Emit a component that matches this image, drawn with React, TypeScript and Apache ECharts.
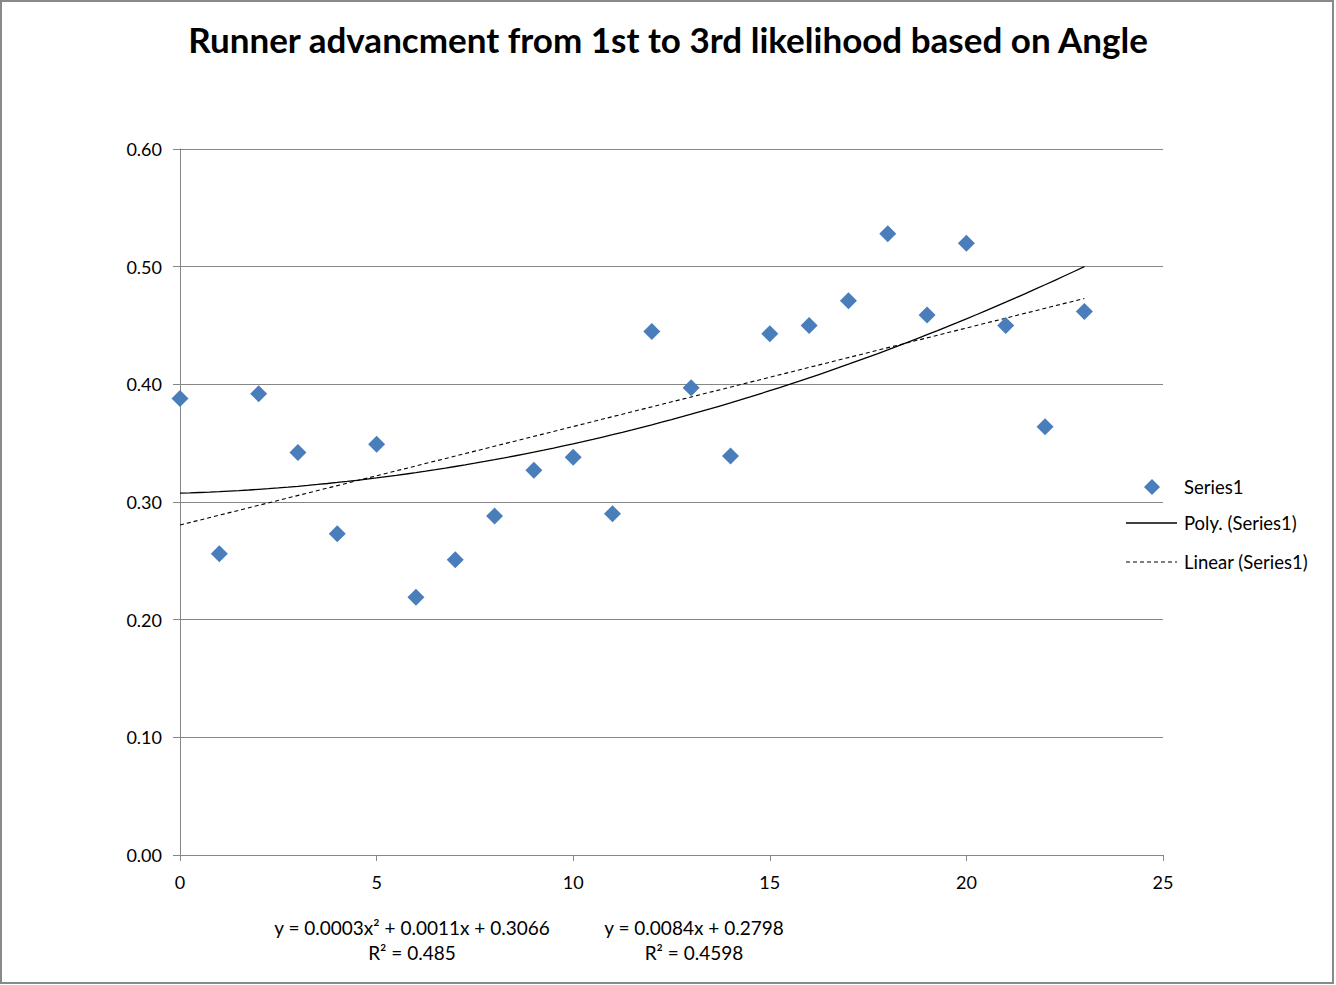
import React, { useEffect, useRef } from "react";
import * as echarts from "echarts";

const TITLE = "Runner advancment from 1st to 3rd likelihood based on Angle";
const angles = [0, 1, 2, 3, 4, 5, 6, 7, 8, 9, 10, 11, 12, 13, 14, 15, 16, 17, 18, 19, 20, 21, 22, 23];
const likelihood = [
  0.388, 0.256, 0.392, 0.342, 0.273, 0.349, 0.219, 0.251, 0.288, 0.327, 0.338, 0.290,
  0.445, 0.397, 0.339, 0.443, 0.450, 0.471, 0.528, 0.459, 0.520, 0.450, 0.364, 0.462,
];
const legendNames = ["Series1", "Poly. (Series1)", "Linear (Series1)"];
const polyEquation = ["y = 0.0003x² + 0.0011x + 0.3066", "R² = 0.485"];
const linearEquation = ["y = 0.0084x + 0.2798", "R² = 0.4598"];

const FONT = "Lato, 'Liberation Sans', sans-serif";
const BLUE = "#4A7EBB";
const GRAY = "#868686";

function solve3(A: number[][], b: number[]): number[] {
  const M = A.map((r, i) => [...r, b[i]]);
  for (let i = 0; i < 3; i++) {
    let p = i;
    for (let k = i + 1; k < 3; k++) if (Math.abs(M[k][i]) > Math.abs(M[p][i])) p = k;
    [M[i], M[p]] = [M[p], M[i]];
    for (let k = 0; k < 3; k++) {
      if (k === i) continue;
      const f = M[k][i] / M[i][i];
      for (let j = i; j < 4; j++) M[k][j] -= f * M[i][j];
    }
  }
  return [M[0][3] / M[0][0], M[1][3] / M[1][1], M[2][3] / M[2][2]];
}

function fits() {
  const n = angles.length;
  let sx = 0, sx2 = 0, sx3 = 0, sx4 = 0, sy = 0, sxy = 0, sx2y = 0;
  for (let i = 0; i < n; i++) {
    const x = angles[i], y = likelihood[i];
    sx += x; sx2 += x * x; sx3 += x * x * x; sx4 += x * x * x * x;
    sy += y; sxy += x * y; sx2y += x * x * y;
  }
  const slope = (n * sxy - sx * sy) / (n * sx2 - sx * sx);
  const intercept = (sy - slope * sx) / n;
  const [c, b, a] = solve3(
    [
      [n, sx, sx2],
      [sx, sx2, sx3],
      [sx2, sx3, sx4],
    ],
    [sy, sxy, sx2y]
  );
  return { slope, intercept, a, b, c };
}

export default function App() {
  const ref = useRef<HTMLDivElement>(null);
  useEffect(() => {
    document.body.style.margin = "0";
    if (!ref.current) return;
    const chart = echarts.init(ref.current, undefined, { renderer: "svg" });
    const f = fits();
    const xMin = angles[0];
    const xMax = angles[angles.length - 1];
    const polyData: number[][] = [];
    for (let x = xMin; x <= xMax + 1e-9; x += 0.25) {
      polyData.push([x, f.a * x * x + f.b * x + f.c]);
    }
    const linData = [
      [xMin, f.intercept + f.slope * xMin],
      [xMax, f.intercept + f.slope * xMax],
    ];
    const textStyle = { fontFamily: FONT, fontSize: 18.5, fill: "#000" };
    chart.setOption({
      animation: false,
      backgroundColor: "#fff",
      title: {
        text: TITLE,
        left: "center",
        top: 16,
        textStyle: { fontFamily: FONT, fontSize: 35, fontWeight: "bold", color: "#000" },
      },
      grid: { left: 180, right: 173, top: 149, bottom: 130 },
      xAxis: {
        type: "value",
        min: 0,
        max: 25,
        interval: 5,
        axisLine: { show: true, lineStyle: { color: GRAY, width: 1 } },
        axisTick: { show: true, length: 6, lineStyle: { color: GRAY } },
        axisLabel: { fontFamily: FONT, fontSize: 18, color: "#000", margin: 18 },
        splitLine: { show: false },
      },
      yAxis: {
        type: "value",
        min: 0,
        max: 0.6,
        interval: 0.1,
        axisLine: { show: true, lineStyle: { color: GRAY, width: 1 } },
        axisTick: { show: true, length: 7, lineStyle: { color: GRAY } },
        axisLabel: {
          fontFamily: FONT,
          fontSize: 18,
          color: "#000",
          margin: 18,
          formatter: (v: number) => v.toFixed(2),
        },
        splitLine: { show: true, lineStyle: { color: GRAY, width: 1 } },
      },
      series: [
        {
          name: legendNames[0],
          type: "scatter",
          symbol: "diamond",
          symbolSize: 17,
          itemStyle: { color: BLUE, opacity: 1 },
          data: angles.map((x, i) => [x, likelihood[i]]),
          z: 3,
        },
        {
          name: legendNames[1],
          type: "line",
          showSymbol: false,
          symbol: "none",
          lineStyle: { color: "#000", width: 1.3 },
          data: polyData,
          z: 2,
        },
        {
          name: legendNames[2],
          type: "line",
          showSymbol: false,
          symbol: "none",
          lineStyle: { color: "#000", width: 1.1, type: [4, 3] },
          data: linData,
          z: 2,
        },
      ],
      graphic: [
        {
          type: "rect",
          shape: { x: 1, y: 1, width: 1332, height: 982 },
          style: { fill: "none", stroke: "#898989", lineWidth: 2 },
          silent: true,
        },
        {
          type: "polygon",
          shape: { points: [[1152, 479], [1160, 487], [1152, 495], [1144, 487]] },
          style: { fill: BLUE },
        },
        {
          type: "line",
          shape: { x1: 1126, y1: 523, x2: 1177, y2: 523 },
          style: { stroke: "#000", lineWidth: 1.3 },
        },
        {
          type: "line",
          shape: { x1: 1126, y1: 562, x2: 1177, y2: 562 },
          style: { stroke: "#000", lineWidth: 1.1, lineDash: [4, 3] },
        },
        { type: "text", x: 1184, y: 487, style: { ...textStyle, text: legendNames[0], textVerticalAlign: "middle" } },
        { type: "text", x: 1184, y: 523, style: { ...textStyle, text: legendNames[1], textVerticalAlign: "middle" } },
        { type: "text", x: 1184, y: 562, style: { ...textStyle, text: legendNames[2], textVerticalAlign: "middle" } },
        { type: "text", x: 412, y: 927, style: { ...textStyle, fontSize: 19, text: polyEquation[0], textAlign: "center", textVerticalAlign: "middle" } },
        { type: "text", x: 412, y: 952, style: { ...textStyle, fontSize: 19, text: polyEquation[1], textAlign: "center", textVerticalAlign: "middle" } },
        { type: "text", x: 694, y: 927, style: { ...textStyle, fontSize: 19, text: linearEquation[0], textAlign: "center", textVerticalAlign: "middle" } },
        { type: "text", x: 694, y: 952, style: { ...textStyle, fontSize: 19, text: linearEquation[1], textAlign: "center", textVerticalAlign: "middle" } },
      ],
    });
    return () => chart.dispose();
  }, []);
  return <div ref={ref} style={{ width: 1336, height: 985 }} />;
}
